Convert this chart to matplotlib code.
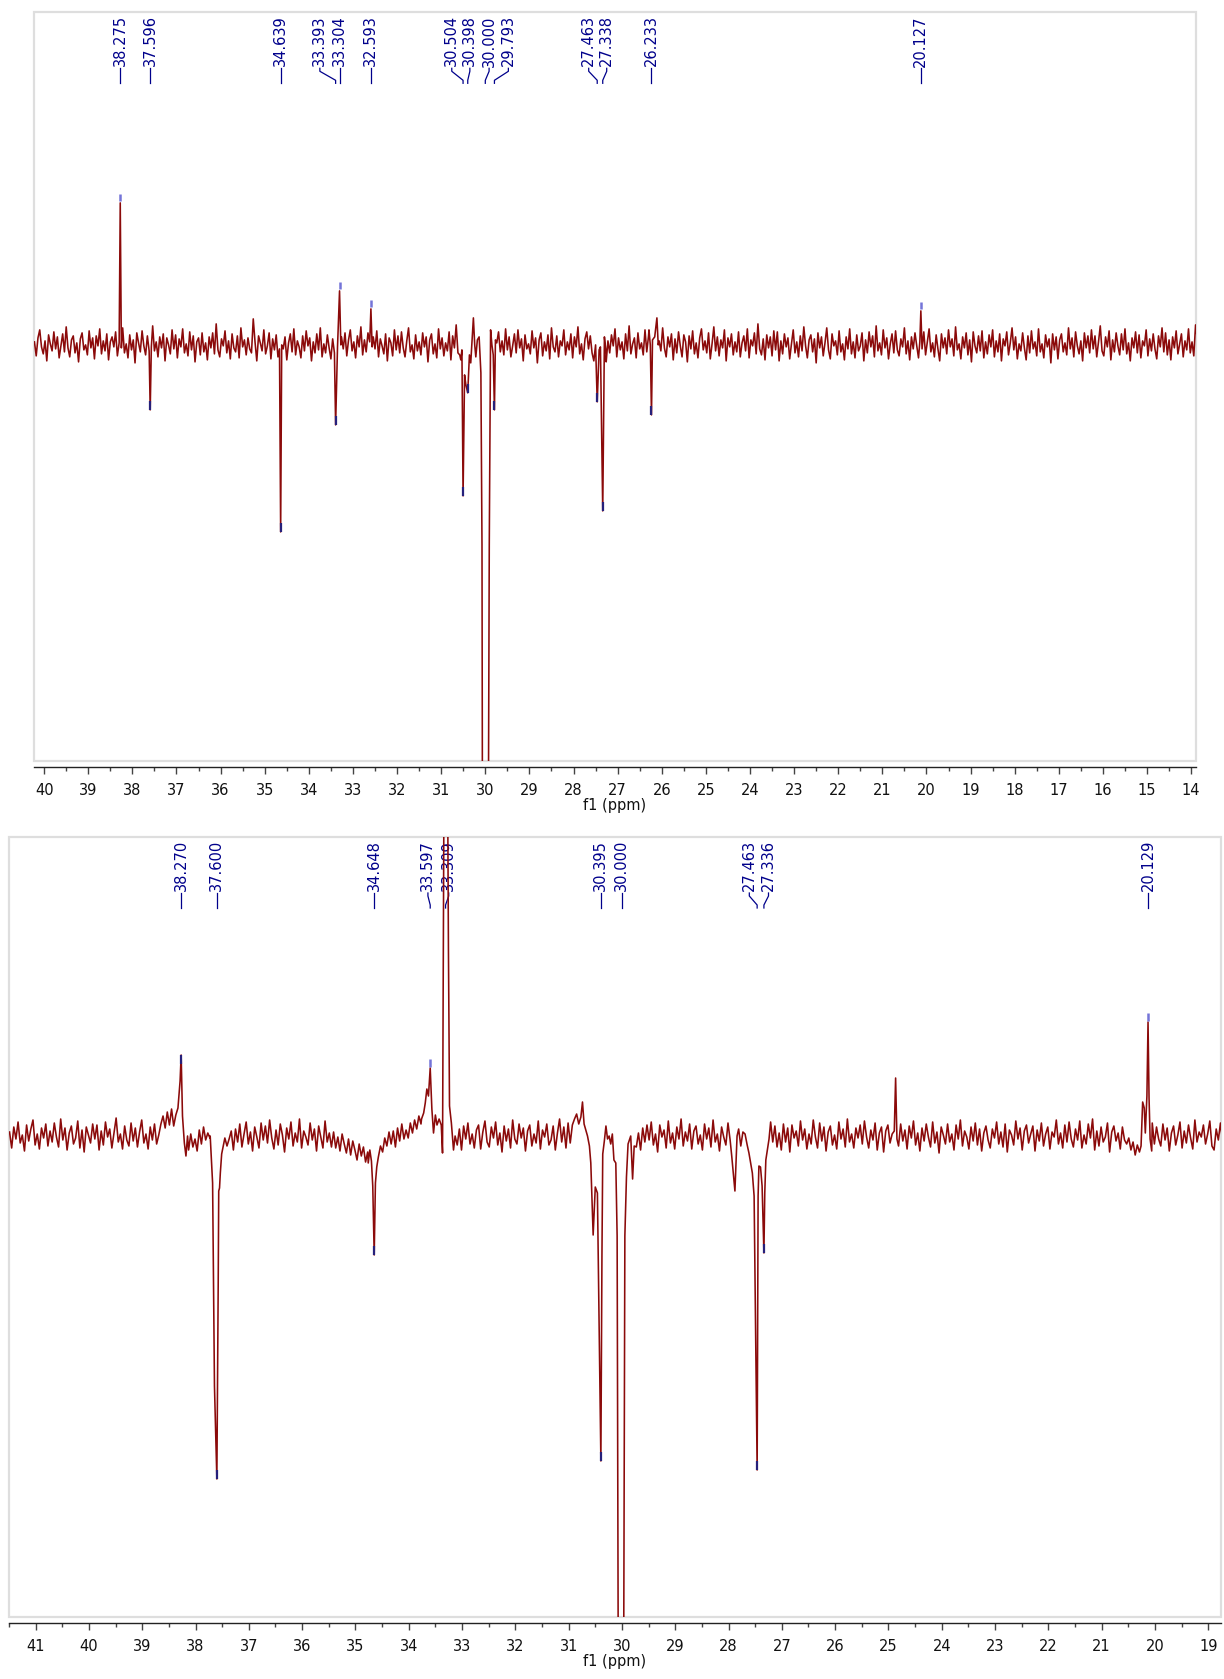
import numpy as np
import matplotlib
matplotlib.use("Agg")
import matplotlib.pyplot as plt
from matplotlib import transforms
from matplotlib.patches import Rectangle
from matplotlib.ticker import MultipleLocator, FormatStrFormatter

plt.rcParams['font.family'] = ['DejaVu Sans']

# ---- top spectrum (intensity in screen px above/below baseline) ----
top_start, top_step = 40.22, 0.04
top_noise = [
    3, -11, 7, 15, -2, -9, 4, -16, 10, 1, -6, 13, -4, 8, -13, -1, 11, -7, 18, -3,
    -12, 5, 9, -8, 2, -17, 6, 12, -5, 0, -10, 14, -3, 7, -14, 9, -1, 16, -9, 4,
    -6, 11, -15, 3, 8, -2, 13, -11, -4, 6, 17, -8, 1, -13, 10, -5, 5, -18, 12, 2,
    -7, 14, -1, -10, 9, -14, 4, 19, -6, 3, -12, 8, -3, 11, -16, 7, 0, -9, 15, -4,
    10, -13, 6, -2, 16, -8, 1, -11, 13, -5, 9, -17, 3, 7, -10, 12, -7, 2, -15, 8,
    -3, 12, -9, 21, -5, -12, 6, -1, 14, -8, 4, -14, 11, -3, -7, 9, -13, 17, -2, 5,
    -10, 7, -4, -8, 26, 3, -16, 9, 2, -6, 15, -9, -1, 12, -14, 6, -5, 10, -12, 1,
    13, -4, 8, -15, 2, 11, -7, 16, -10, 4, -2, -13, 9, -6, 14, -1, 7, -16, 3, -8,
    11, -5, 17, -12, 1, -8, 10, -3, -14, 6, 13, -9, 2, -18, 8, -4, 12, -11, 5, 15,
    -6, 3, -13, 9, -2, 18, -10, 5, -7, 12, -15, 1, 8, -4, 14, -12, 6, -1, -9, 11,
    -16, 7, 2, -11, 15, -5, 9, -8, 13, -3, -12, 4, 17, -7, 0, -14, 10, -6, 3, -10,
    12, -2, 8, -17, 5, 11, -9, 1, -13, 16, -4, 7, -11, 2, -6, 13, -15, 9, -3, 20,
    -8, 4, -12, 10, -1, -15, 14, -6, 3, -9, 19, -11, 6, -2, 11, -13, 1, 8, -17, 5,
    9, -14, 2, 13, -7, 4, -10, 16, -5, 8, -12, -1, 11, -8, 15, -3, 6, -16, 10, -4,
    1, -9, 14, -3, 7, -18, 5, 12, -11, 3, -6, 10, -14, 17, -2, -7, 9, -12, 4, -1,
    15, -10, 3, -5, 11, -13, 8, -2, 18, -9, 1, -15, 6, 13, -4, 9, -8, -16, 12, 2,
    -11, 6, -3, 14, -17, 4, -8, 10, -1, 16, -12, 7, -5, 3, -14, 11, -6, 19, -9, 1,
    7, -13, 12, -4, 2, -10, 15, -7, 9, -16, 5, -2, 13, -11, 4, -6, 17, -3, -12, 8,
    -2, 11, -15, 6, -8, 13, -1, -12, 10, 3, -17, 9, -4, 14, -9, 2, -13, 7, 16, -5,
    4, -8, 12, -14, 1, 18, -6, 8, -11, 5, -3, 15, -16, 7, -2, 11, -10, 3, -7, 13,
    -12, 2, 9, -6, 16, -13, 5, -1, 12, -9, 21, -4, -10, 6, -15, 10, -3, 8, -11, 14,
    -5, 13, -16, 4, -9, 11, -2, 7, -14, 1, 15, -8, 3, -12, 9, -6, 18, -1, -13, 5,
    10, -7, 6, -18, 12, -3, 8, -11, 2, 17, -5, -14, 11, -1, 4, -10, 14, -7, 1, -15,
    8, -4, 16, -9, 3, -13, 10, -6, -1, 12, -16, 5, -8, 13, -2, 9, -12, 19, -6, 2,
    -10, 15, -3, 7, -14, 1, 11, -8, 14, -5, -11, 6, -2, 17, -9, 4, -15, 8, -4, 12,
    -1, -13, 9, -6, 13, -10, 3, 16, -7, 2, -12, 10, -4, -16, 11, -3, 7, -9, 15, -2,
    6, -11, 18, -5, 1, -14, 8, -3, 12, -10, 5, -17, 13, -1, -8, 9, -6, 14, -13, 3,
    -9, 10, -2, 15, -12, 4, -7, 11, -16, 6, -1, 13, -10, 2, 17, -5, 8, -14, 1, -6,
    12, -3, -15, 9, -8, 14, -4, 3, -11, 16, -7, 1, -13, 10, -2, 6, -18, 11, -5, 8,
    -14, 5, 11, -7, 2, -10, 17, -4, 7, -12, 13, -1, -9, 4, -16, 12, -3, 9, -8, 15,
    -4, 9, -12, 3, 19, -6, -11, 8, -2, 14, -15, 5, -7, 12, -1, -10, 11, -5, 16, -9,
    2, -16, 7, -3, 13, -8, 10, -13, 4, -1, 15, -11, 6, -6, 11, -4, -14, 9, -2, 17,
    -7, 12, -10, 5, -15, 8, -3, 14, -9, 1, 11, -12, 4, -5, 16, -8, 3, -11, 20, 6,
]
top_segments = [
    [(38.30, 2), (38.275, 142), (38.25, -3)],
    [(37.62, -6), (37.596, -65), (37.57, -2)],
    [(34.665, -4), (34.639, -187), (34.615, 0)],
    [(33.42, -8), (33.393, -80), (33.35, -2), (33.304, 54), (33.275, 0)],
    [(32.62, 3), (32.593, 36), (32.565, -2)],
    [(30.58, -10), (30.555, -15), (30.53, -5), (30.504, -151), (30.47, -30),
     (30.44, -40), (30.398, -48), (30.36, -10), (30.33, -18), (30.30, 5),
     (30.27, 27), (30.24, 0), (30.215, -12), (30.18, 5), (30.14, 8),
     (30.10, -28), (30.075, -200), (30.06, -600), (30.00, -3000),
     (29.94, -600), (29.91, -200), (29.88, 15), (29.85, 0), (29.82, -10),
     (29.793, -65), (29.77, 5)],
    [(27.50, 0), (27.463, -57), (27.42, -5), (27.39, -2), (27.338, -166),
     (27.30, 8), (27.27, -5)],
    [(26.29, 15), (26.26, 0), (26.233, -70), (26.21, 5), (26.16, 8),
     (26.11, 27), (26.08, 0)],
    [(20.15, 3), (20.127, 34), (20.10, -4)],
]
top_labels = ["38.275", "37.596", "34.639", "33.393", "33.304", "32.593",
              "30.504", "30.398", "30.000", "29.793", "27.463", "27.338",
              "26.233", "20.127"]
top_label_pos = [38.275, 37.596, 34.639, 33.75, 33.304, 32.593,
                 30.76, 30.35, 29.914, 29.477, 27.656, 27.248,
                 26.233, 20.127]
top_light = ["38.275", "33.304", "32.593", "20.127"]

# ---- bottom spectrum ----
bot_start, bot_step = 41.49, 0.04
bot_noise = [
    4, -12, 9, -3, 14, -7, 1, -15, 11, -5, 7, 16, -9, 2, -13, 8, -2, 12, -10, 5,
    -6, 13, -1, -11, 17, -4, 8, -14, 3, 10, -8, -2, 15, -12, 6, -16, 9, 1, -7, 12,
    -3, 11, -14, 5, -9, 14, -1, 7, -12, 3, 18, -6, 2, -13, 10, -4, -10, 13, -5, 8,
    -11, 4, 16, -7, 2, -13, 9, -4, 12, -8, 1, 12, 20, 8, 24, 11, 27, 10, 21, 0,
    0, 0, 0, 0, -14, 2, -11, -3, -15, 6, -8, 9, -4, 3, -2, 0, 0, 0, 0, 0,
    0, 0, -10, -3, 5, -14, 7, -6, 12, -11, 2, 14, -8, 4, -15, 9, -1, -12, 13, -4,
    10, -7, 16, -2, -13, 6, -9, 12, 1, -16, 8, -3, 14, -10, 3, -6, 17, -12, 5, -1,
    -9, 13, -4, 7, -15, 10, -1, -12, 15, -6, 3, -11, 4, -12, -1, -15, 2, -8, -17, -3,
    -19, -5, -14, -24, -8, -20, -11, -26, -16, 0, 0, 0, 0, 0, 0, -16, -2, -10, 4, -8,
    5, -11, 8, -5, 12, -3, 6, -2, 13, 3, 16, 7, 20, 12, 0, 0, 0, 0, 0, 0,
    0, 0, 0, 0, 0, 0, 0, 0, 0, 0, -9, 7, -14, 10, -3, 13, -8, 2, -12, 6,
    11, -13, 4, 15, -6, -11, 9, -2, 14, -9, 3, -16, 10, -5, 7, -12, 16, -3, -8, 12,
    -2, 8, -15, 5, 11, -10, 2, -7, 15, -13, 6, -1, 12, -9, -4, 10, -14, 3, 17, -6,
    9, -12, 13, -7, 11, 17, 22, 12, 19, 0, 0, 0, 0, 0, 0, 0, 0, 0, 0, 0,
    0, 0, 0, 0, 0, 0, 0, 0, 0, 0, 0, 0, 0, 0, -11, 3, -14, 8, -6, 11,
    -4, 14, -9, 2, -16, 11, -1, 6, -12, 15, -7, 3, -13, 9, -3, 17, -10, 4, -5, 12,
    -13, 5, 10, -8, 1, -14, 12, -3, 8, -11, 16, -6, 2, -15, 9, -1, -9, 13, -4, 0,
    0, 0, 7, -10, 4, 2, -9, 0, 0, 0, 0, 0, 0, 0, 0, 0, 0, 14, -6, 10,
    -11, 3, -14, 12, -6, 8, -16, 11, -2, 5, -10, 15, -4, 7, -13, 2, -8, 16, -1, -12,
    13, -5, 9, -15, 4, 10, -9, 1, -13, 14, -3, 7, -11, 17, -6, 2, -12, 8, -2, 11,
    -8, 15, -1, -12, 6, -4, 13, -14, 3, 9, -16, 5, 11, -7, 2, 0, 0, -10, 12, -5,
    6, -13, 10, -2, 15, -9, 3, -15, 8, -5, 12, -1, -11, 14, -7, 4, -17, 9, 1, -8,
    12, -6, 2, -14, 11, -3, 16, -10, 5, -1, -13, 9, -5, 13, -9, 7, -15, 3, 10, -4,
    -12, 7, -2, 14, -8, 4, -11, 12, -16, 6, 1, -9, 15, -3, 8, -14, 5, 11, -7, 2,
    10, -15, 6, -5, 13, -10, 2, 9, -13, 4, -1, 16, -8, 3, -12, 11, -6, 14, -3, -11,
    7, -4, 15, -12, 1, -8, 12, -2, 17, -14, 5, -10, 9, -6, -1, 13, -16, 4, 10, -5,
    3, -13, 9, -4, -8, -2, -14, -6, -19, -9, -16, 0, 0, 0, 0, 0, 13, -8, 9, -3,
    -10, 12, -4, 8, -15, 3, 10, -9, 1, 14, -12, 5, -7, 11, -2, -13, 16, -6, 4, -1,
    11, -8, 2, 15, -10, -14, 7, -4, 13, -6,
]
bot_segments = [
    [(38.33, 28), (38.29, 55), (38.270, 81), (38.245, 20), (38.21, -7),
     (38.18, -20), (38.15, 0)],
    [(37.725, 0), (37.68, -47), (37.645, -250), (37.600, -343), (37.575, -150),
     (37.565, -55), (37.55, -52), (37.535, -37), (37.51, -18), (37.48, -10),
     (37.45, -2)],
    [(34.76, -27), (34.73, -14), (34.70, -25), (34.675, -50), (34.648, -119),
     (34.625, -47), (34.60, -31), (34.57, -21), (34.53, -10)],
    [(33.76, 17), (33.72, 23), (33.69, 33), (33.66, 47), (33.63, 40),
     (33.597, 68), (33.566, 27), (33.535, 3), (33.50, 21), (33.47, 11),
     (33.43, 17), (33.39, 11), (33.366, -17), (33.35, 186), (33.335, 400),
     (33.309, 1500), (33.275, 400), (33.255, 186), (33.235, 30), (33.20, 13),
     (33.16, -14), (33.13, 0)],
    [(30.74, 34), (30.71, 12), (30.646, 0), (30.61, -10), (30.584, -27),
     (30.54, -99), (30.50, -51), (30.46, -57), (30.395, -325), (30.375, -120),
     (30.36, -18), (30.33, -5), (30.30, 10), (30.27, -3), (30.24, 0),
     (30.21, -8), (30.18, 2), (30.15, -24), (30.115, -27), (30.09, -100),
     (30.07, -480), (30.00, -3000), (29.965, -480), (29.945, -100),
     (29.915, -41), (29.885, -8), (29.835, 0), (29.80, -43), (29.77, -10)],
    [(27.94, -20), (27.88, -55), (27.84, 0)],
    [(27.617, -17), (27.553, -37), (27.52, -60), (27.463, -334), (27.445, -60),
     (27.43, -30), (27.40, -31), (27.37, -50), (27.336, -117), (27.32, -57),
     (27.30, -24), (27.24, -3)],
    [(24.89, 5), (24.865, 58), (24.84, -3)],
    [(20.26, -10), (20.23, 34), (20.20, 28), (20.18, 3), (20.15, 40),
     (20.129, 114), (20.11, 38), (20.09, -3), (20.06, -15)],
]
bot_labels = ["38.270", "37.600", "34.648", "33.597", "33.309", "30.395",
              "30.000", "27.463", "27.336", "20.129"]
bot_label_pos = [38.270, 37.600, 34.648, 33.64, 33.25, 30.395,
                 30.000, 27.61, 27.25, 20.129]
bot_light = ["33.597", "20.129"]

RED = "#8b0a0a"
NAVY = "#00008b"
LIGHT = "#7474d8"
DARK = "#26207a"


def build_trace(start, step, noise, segments):
    ppm = start - step * np.arange(len(noise))
    val = np.array(noise, dtype=float)
    keep = np.ones(len(ppm), bool)
    for seg in segments:
        lo = min(p for p, _ in seg) - 1e-6
        hi = max(p for p, _ in seg) + 1e-6
        keep &= ~((ppm >= lo) & (ppm <= hi))
    sx = [p for seg in segments for p, _ in seg]
    sy = [v for seg in segments for _, v in seg]
    x = np.concatenate([ppm[keep], sx])
    y = np.concatenate([val[keep], sy])
    order = np.argsort(-x)
    return x[order], y[order]


def panel(ax, xlim, ylim, h_px, start, step, noise, segments,
          labels, label_pos, light):
    x, y = build_trace(start, step, noise, segments)
    ax.plot(x, y, color=RED, lw=1.15, zorder=4)

    apex = {p: v for seg in segments for p, v in seg}
    tr = transforms.blended_transform_factory(ax.transData, ax.transAxes)
    y_text = 1 - 3 / h_px
    ys = [1 - 56 / h_px, 1 - 59 / h_px, 1 - 68 / h_px, 1 - 71 / h_px]
    for txt, lp in zip(labels, label_pos):
        p = float(txt)
        ax.text(lp, y_text, txt, rotation=90, ha="center", va="top",
                transform=tr, color=NAVY, fontsize=10.5, zorder=2)
        ax.plot([lp, lp, p, p], ys, transform=tr, color=NAVY, lw=0.9,
                zorder=2, clip_on=False)
        h = apex[p]
        if h < ylim[0] or h > ylim[1]:
            continue
        if txt in light:
            ax.vlines(p, h + 1.5, h + 9, color=LIGHT, lw=1.8, zorder=5)
        elif h < 0:
            ax.vlines(p, h, h + 9, color=DARK, lw=1.6, zorder=5)
        else:
            ax.vlines(p, h - 9, h, color=DARK, lw=1.6, zorder=5)

    ax.add_patch(Rectangle((0, 0), 1, 1, transform=ax.transAxes, fill=False,
                           ec="#dedede", lw=1.6, clip_on=False, zorder=0))
    for s in ["left", "right", "top"]:
        ax.spines[s].set_visible(False)
    ax.spines["bottom"].set_position(("outward", 4.5))
    ax.spines["bottom"].set_color("#222222")
    ax.spines["bottom"].set_linewidth(1.0)
    ax.set_yticks([])
    ax.xaxis.set_major_locator(MultipleLocator(1))
    ax.xaxis.set_minor_locator(MultipleLocator(0.5))
    ax.xaxis.set_major_formatter(FormatStrFormatter("%d"))
    ax.tick_params(axis="x", which="major", length=5, width=1.0,
                   color="#444444", labelsize=10.5, pad=6, labelcolor="#111111")
    ax.tick_params(axis="x", which="minor", length=3, width=1.0, color="#444444")
    ax.set_xlabel("f1 (ppm)", fontsize=10.5, labelpad=0, color="#111111")
    ax.set_xlim(*xlim)
    ax.set_ylim(*ylim)


fig = plt.figure(figsize=(12.24, 16.79), dpi=100)
W, H = 1224, 1679
ax1 = fig.add_axes([34 / W, 1 - 761 / H, (1196 - 34) / W, (761 - 12.3) / H])
ax2 = fig.add_axes([9 / W, 1 - 1617 / H, (1221 - 9) / W, (1617 - 837) / H])

panel(ax1, (40.23, 13.89), (-416, 332.5), 748.7, top_start, top_step,
      top_noise, top_segments, top_labels, top_label_pos, top_light)
panel(ax2, (41.50, 18.76), (-481, 299), 780.0, bot_start, bot_step,
      bot_noise, bot_segments, bot_labels, bot_label_pos, bot_light)

fig.savefig("out.png", dpi=100)
